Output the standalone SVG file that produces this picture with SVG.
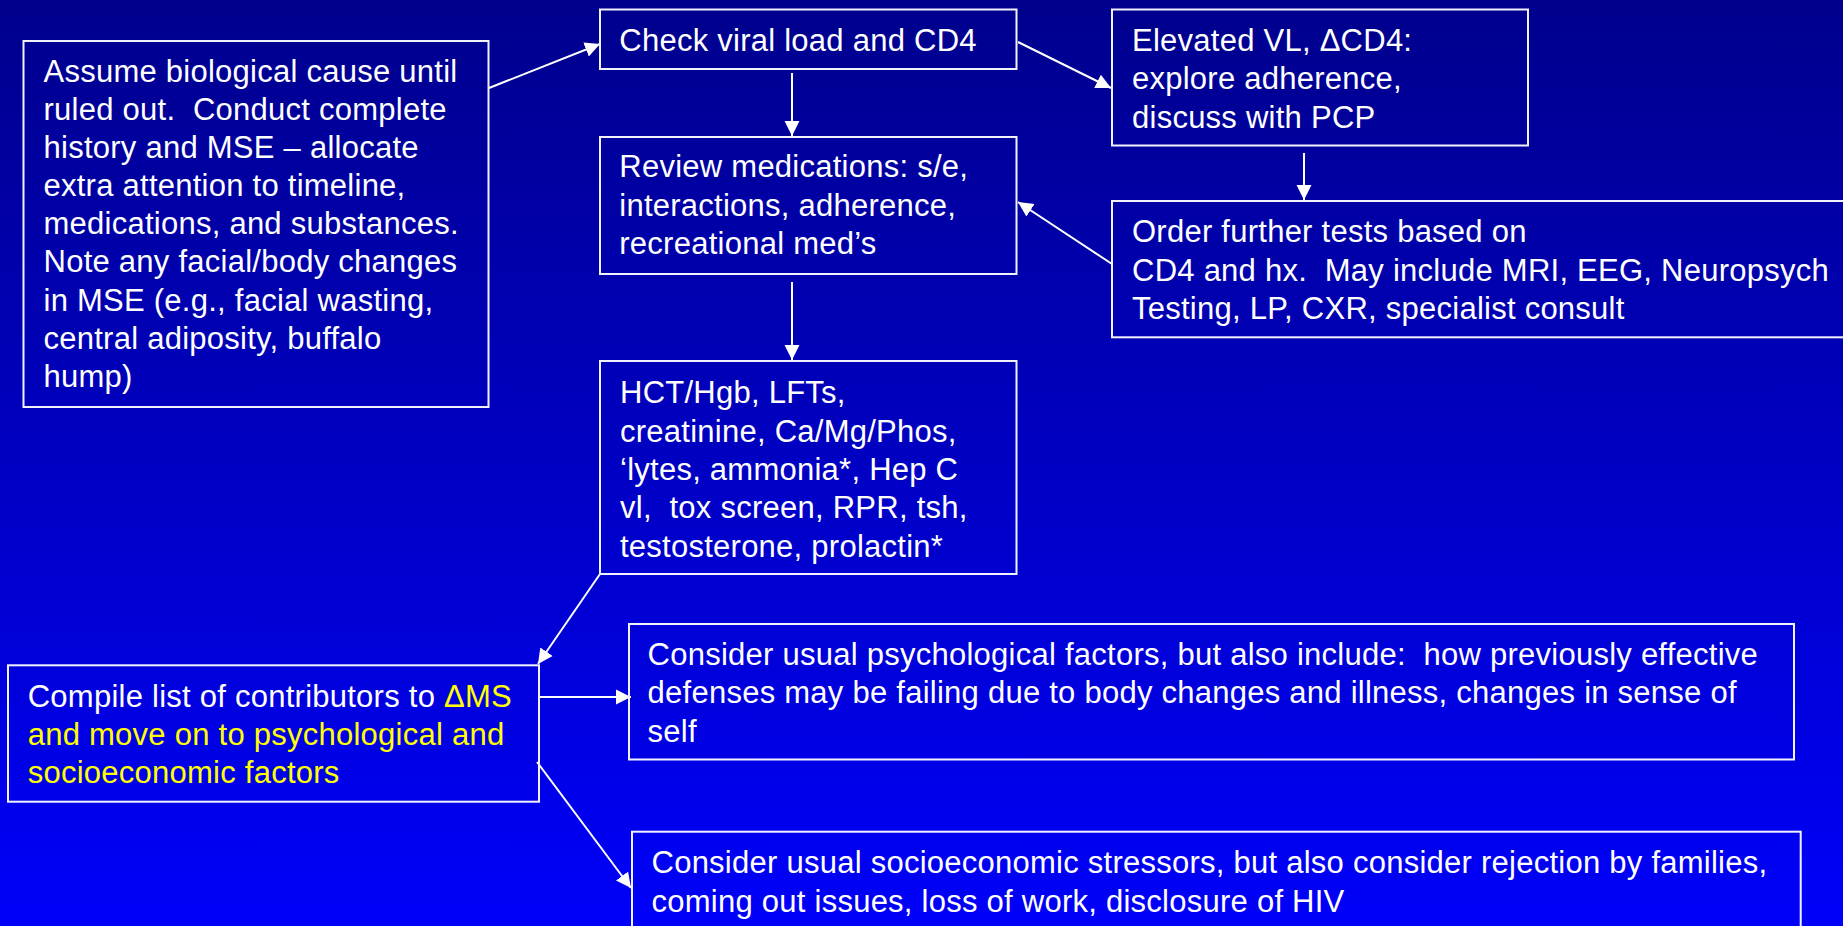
<svg xmlns="http://www.w3.org/2000/svg" width="1843" height="926" viewBox="0 0 1843 926">
<defs>
<linearGradient id="bg" x1="0" y1="0" x2="0" y2="1">
<stop offset="0" stop-color="#00008c"/>
<stop offset="1" stop-color="#0000fa"/>
</linearGradient>
<marker id="arr" markerWidth="16" markerHeight="16" refX="15" refY="8" orient="auto" markerUnits="userSpaceOnUse">
<path d="M0,0.5 L15,8 L0,15.5 z" fill="#ffffff"/>
</marker>
<style>
.box{fill:none;stroke:#f2f2ff;stroke-width:2}
.t{font-family:"Liberation Sans",Arial,sans-serif;font-size:31px;letter-spacing:0.25px;fill:#ffffff;white-space:pre}
.y{fill:#ffff00}
.c{stroke:#ffffff;stroke-width:2;fill:none;marker-end:url(#arr)}
</style>
</defs>
<rect x="0" y="0" width="1843" height="926" fill="url(#bg)"/>

<g id="connectors">
<line class="c" x1="489" y1="88" x2="600" y2="44"/>
<line class="c" x1="792" y1="73" x2="792" y2="136"/>
<line class="c" x1="1018" y1="42" x2="1111" y2="88"/>
<line class="c" x1="1304" y1="153" x2="1304" y2="200"/>
<line class="c" x1="1112" y1="264" x2="1018" y2="202"/>
<line class="c" x1="792" y1="282" x2="792" y2="360"/>
<line class="c" x1="600" y1="574" x2="538" y2="664"/>
<line class="c" x1="538" y1="697" x2="631" y2="697"/>
<line class="c" x1="537" y1="762" x2="631" y2="888"/>
</g>

<g id="n-assume">
<rect class="box" x="23.5" y="41" width="465" height="366"/>
<text class="t" x="43.5" y="81.7">Assume biological cause until</text>
<text class="t" x="43.5" y="119.8">ruled out.  Conduct complete</text>
<text class="t" x="43.5" y="158">history and MSE – allocate</text>
<text class="t" x="43.5" y="196.1">extra attention to timeline,</text>
<text class="t" x="43.5" y="234.3">medications, and substances.</text>
<text class="t" x="43.5" y="272.4">Note any facial/body changes</text>
<text class="t" x="43.5" y="310.6">in MSE (e.g., facial wasting,</text>
<text class="t" x="43.5" y="348.7">central adiposity, buffalo</text>
<text class="t" x="43.5" y="386.9">hump)</text>
</g>

<g id="n-check">
<rect class="box" x="600" y="9.5" width="416.5" height="59.5"/>
<text class="t" x="619.3" y="50.7">Check viral load and CD4</text>
</g>

<g id="n-elevated">
<rect class="box" x="1112" y="9.5" width="416" height="136"/>
<text class="t" x="1132" y="50.7">Elevated VL, ΔCD4:</text>
<text class="t" x="1132" y="89.2">explore adherence,</text>
<text class="t" x="1132" y="127.7">discuss with PCP</text>
</g>

<g id="n-order">
<rect class="box" x="1112" y="201" width="760" height="136.3"/>
<text class="t" x="1132" y="242.3">Order further tests based on</text>
<text class="t" x="1132" y="280.7">CD4 and hx.  May include MRI, EEG, Neuropsych</text>
<text class="t" x="1132" y="319.2">Testing, LP, CXR, specialist consult</text>
</g>

<g id="n-review">
<rect class="box" x="600" y="137" width="416.5" height="137"/>
<text class="t" x="619.3" y="177">Review medications: s/e,</text>
<text class="t" x="619.3" y="215.5">interactions, adherence,</text>
<text class="t" x="619.3" y="254">recreational med’s</text>
</g>

<g id="n-labs">
<rect class="box" x="600" y="361" width="416.5" height="213"/>
<text class="t" x="620" y="403.3">HCT/Hgb, LFTs,</text>
<text class="t" x="620" y="441.7">creatinine, Ca/Mg/Phos,</text>
<text class="t" x="620" y="480">‘lytes, ammonia*, Hep C</text>
<text class="t" x="620" y="518.3">vl,  tox screen, RPR, tsh,</text>
<text class="t" x="620" y="556.7">testosterone, prolactin*</text>
</g>

<g id="n-compile">
<rect class="box" x="8" y="665.3" width="531" height="136.4"/>
<text class="t" x="27.7" y="706.7">Compile list of contributors to <tspan class="y">ΔMS</tspan></text>
<text class="t y" x="27.7" y="745">and move on to psychological and</text>
<text class="t y" x="27.7" y="783.3">socioeconomic factors</text>
</g>

<g id="n-psych">
<rect class="box" x="629" y="624" width="1165" height="135.5"/>
<text class="t" x="647.6" y="665">Consider usual psychological factors, but also include:  how previously effective</text>
<text class="t" x="647.6" y="703.3">defenses may be failing due to body changes and illness, changes in sense of</text>
<text class="t" x="647.6" y="741.7">self</text>
</g>

<g id="n-socio">
<rect class="box" x="632" y="831.7" width="1168.7" height="120"/>
<text class="t" x="651.5" y="873.3">Consider usual socioeconomic stressors, but also consider rejection by families,</text>
<text class="t" x="651.5" y="911.7">coming out issues, loss of work, disclosure of HIV</text>
</g>
</svg>
